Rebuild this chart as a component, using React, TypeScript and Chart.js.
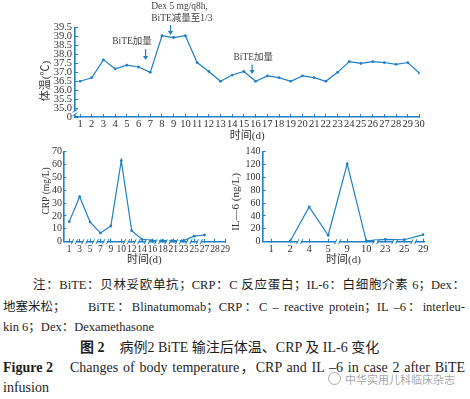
import React, { useEffect, useRef } from "react";
import { Chart, registerables } from "chart.js";

Chart.register(...registerables);

const BLUE = "#1f80c6";
const TEXT = "#333333";
const SERIF = "'Liberation Serif', 'Noto Sans CJK SC', serif";

// ---------- Body temperature ----------
const tempDays = [1, 2, 3, 4, 5, 6, 7, 8, 9, 10, 11, 12, 13, 14, 15, 16, 17, 18, 19, 20, 21, 22, 23, 24, 25, 26, 27, 28, 29, 30];
const tempValues = [36.5, 36.7, 37.7, 37.2, 37.4, 37.3, 37.0, 39.05, 38.95, 39.05, 37.55, 37.05, 36.5, 36.85, 37.05, 36.5, 36.8, 36.7, 36.5, 36.8, 36.7, 36.5, 37.0, 37.6, 37.5, 37.6, 37.55, 37.45, 37.55, 36.95];
const tempTickValues = [34.5, 35, 35.5, 36, 36.5, 37, 37.5, 38, 38.5, 39, 39.5];
const tempTickLabels = ["0", "35.0", "35.5", "36.0", "36.5", "37.0", "37.5", "38.0", "38.5", "39.0", "39.5"];
const tempNoteDays = [8.73, 6.6, 15.7];
const tempNoteTexts = [["Dex 5 mg/q8h,", "BiTE减量至1/3"], ["BiTE加量"], ["BiTE加量"]];

// ---------- CRP ----------
const crpDayLabels = ["1", "3", "5", "7", "9", "10", "12", "14", "16", "18", "21", "23", "25", "27", "28", "29"];
const crpValues = [15.6, 35, 15.3, 6.7, 12.2, 63, 8.6, 1.8, 1.0, 0.8, 0.8, 0.8, 4.3, 5.2, null, null];
const crpTickValues = [0, 10, 20, 30, 40, 50, 60, 70];
const crpBreakAfter = [0, 1, 2, 3, 5, 6, 7, 8, 9, 10, 11, 12];

// ---------- IL-6 ----------
const il6DayLabels = ["1", "2", "4", "5", "9", "10", "23", "25", "29"];
const il6Values = [null, 0.8, 54, 10, 121, 1.2, 3.5, 3, 11];
const il6TickValues = [0, 20, 40, 60, 80, 100, 120, 140];
const il6BreakAfter = [1, 3, 5, 6, 7];

type Note = { day: number; lines: string[]; dx: number; ty: number[]; a: [number, number] };

type Spec = {
  left: number; top: number; width: number; height: number;
  pad: { left: number; top: number; right: number; bottom: number };
  yWidth: number; xHeight: number;
  xMin: number; xMax: number; xTicks: number[]; xLabels: string[]; xTickSize: number; xLabelPad: number;
  yMin: number; yMax: number; yTicks: number[]; yLabels: string[]; yTickSize: number; yLabelPad: number;
  yTitle: string; yTitleSize: number; yTitleX: number; yTitleY: number;
  xTitleSize: number; xTitlePadBottom: number;
  points: { x: number; y: number | null }[];
  breaksX?: number[]; breakY?: number;
  notes?: Note[];
};

function buildConfig(s: Spec): any {
  const decor = {
    id: "decor",
    afterDraw(chart: any) {
      const { ctx, chartArea: ca, scales } = chart;
      const xs = scales.x;
      const ys = scales.y;
      // y title
      ctx.save();
      ctx.fillStyle = TEXT;
      ctx.font = `${s.yTitleSize}px ${SERIF}`;
      ctx.textAlign = "center";
      ctx.textBaseline = "middle";
      ctx.translate(s.yTitleX, s.yTitleY);
      ctx.rotate(-Math.PI / 2);
      ctx.fillText(s.yTitle, 0, 0);
      ctx.restore();

      ctx.save();
      ctx.strokeStyle = BLUE;
      ctx.lineWidth = 1;
      // x-axis breaks
      (s.breaksX || []).forEach((i) => {
        const px = xs.getPixelForValue(i + 0.5);
        const py = ca.bottom;
        ctx.fillStyle = "#ffffff";
        ctx.fillRect(px - 1.5, py - 1.5, 3, 3);
        ctx.beginPath();
        ctx.moveTo(px - 3.2, py + 2.5);
        ctx.lineTo(px - 0.8, py - 2.5);
        ctx.moveTo(px + 0.8, py + 2.5);
        ctx.lineTo(px + 3.2, py - 2.5);
        ctx.stroke();
      });
      // y-axis break
      if (s.breakY !== undefined) {
        const py = ys.getPixelForValue(s.breakY);
        const px = ca.left;
        ctx.fillStyle = "#ffffff";
        ctx.fillRect(px - 1.5, py - 1.5, 3, 3);
        ctx.beginPath();
        ctx.moveTo(px - 2.5, py - 0.2);
        ctx.lineTo(px + 2.5, py - 3.2);
        ctx.moveTo(px - 2.5, py + 3.2);
        ctx.lineTo(px + 2.5, py + 0.2);
        ctx.stroke();
      }
      // annotations
      (s.notes || []).forEach((n) => {
        const px = xs.getPixelForValue(n.day);
        ctx.fillStyle = "#444444";
        ctx.font = `9.5px ${SERIF}`;
        ctx.textAlign = "left";
        ctx.textBaseline = "middle";
        n.lines.forEach((t, k) => ctx.fillText(t, px + n.dx, n.ty[k]));
        ctx.strokeStyle = BLUE;
        ctx.lineWidth = 1.2;
        ctx.beginPath();
        ctx.moveTo(px, n.a[0]);
        ctx.lineTo(px, n.a[1] - 3);
        ctx.stroke();
        ctx.fillStyle = BLUE;
        ctx.beginPath();
        ctx.moveTo(px - 2.6, n.a[1] - 4);
        ctx.lineTo(px + 2.6, n.a[1] - 4);
        ctx.lineTo(px, n.a[1]);
        ctx.closePath();
        ctx.fill();
      });
      ctx.restore();
    },
  };

  return {
    type: "line",
    data: {
      datasets: [
        {
          data: s.points,
          borderColor: BLUE,
          backgroundColor: BLUE,
          borderWidth: 1.2,
          pointRadius: 1.4,
          pointBorderWidth: 0,
          pointHoverRadius: 0,
          tension: 0,
          fill: false,
        },
      ],
    },
    options: {
      animation: false,
      responsive: false,
      maintainAspectRatio: false,
      events: [],
      layout: { padding: s.pad },
      plugins: { legend: { display: false }, tooltip: { enabled: false } },
      scales: {
        x: {
          type: "linear",
          position: "bottom",
          min: s.xMin,
          max: s.xMax,
          afterFit: (sc: any) => { sc.height = s.xHeight; },
          afterBuildTicks: (sc: any) => { sc.ticks = s.xTicks.map((v) => ({ value: v })); },
          ticks: {
            autoSkip: false,
            maxRotation: 0,
            minRotation: 0,
            padding: s.xLabelPad,
            color: TEXT,
            font: { family: SERIF, size: s.xTickSize },
            callback: (_v: any, i: number) => s.xLabels[i],
          },
          grid: { drawOnChartArea: false, drawTicks: true, tickLength: -3, color: BLUE, lineWidth: 1 },
          border: { color: BLUE, width: 1.6 },
          title: {
            display: true,
            text: "时间(d)",
            color: TEXT,
            font: { family: SERIF, size: s.xTitleSize },
            padding: { top: 0, bottom: s.xTitlePadBottom },
          },
        },
        y: {
          type: "linear",
          min: s.yMin,
          max: s.yMax,
          afterFit: (sc: any) => { sc.width = s.yWidth; },
          afterBuildTicks: (sc: any) => { sc.ticks = s.yTicks.map((v) => ({ value: v })); },
          ticks: {
            autoSkip: false,
            padding: s.yLabelPad,
            color: TEXT,
            font: { family: SERIF, size: s.yTickSize },
            callback: (_v: any, i: number) => s.yLabels[i],
          },
          grid: { drawOnChartArea: false, drawTicks: true, tickLength: -3, color: BLUE, lineWidth: 1 },
          border: { color: BLUE, width: 1.6 },
        },
      },
    },
    plugins: [decor],
  };
}

function ChartPanel({ spec }: { spec: Spec }) {
  const ref = useRef<HTMLCanvasElement>(null);
  useEffect(() => {
    const chart = new Chart(ref.current as HTMLCanvasElement, buildConfig(spec));
    return () => chart.destroy();
  }, []);
  return (
    <canvas
      ref={ref}
      width={spec.width}
      height={spec.height}
      style={{ position: "absolute", left: spec.left, top: spec.top, width: spec.width, height: spec.height }}
    />
  );
}

const tempSpec: Spec = {
  left: 0, top: 0, width: 470, height: 145,
  pad: { left: 0, top: 27.7, right: 50.5, bottom: 0 },
  yWidth: 75, xHeight: 28,
  xMin: 0.57, xMax: 30, xTicks: tempDays, xLabels: tempDays.map(String), xTickSize: 10.5, xLabelPad: 4.2,
  yMin: 34.5, yMax: 39.5, yTicks: tempTickValues, yLabels: tempTickLabels, yTickSize: 10.5, yLabelPad: 6,
  yTitle: "体温(℃)", yTitleSize: 11, yTitleX: 46, yTitleY: 81,
  xTitleSize: 11, xTitlePadBottom: 2,
  points: tempDays.map((d, i) => ({ x: d, y: tempValues[i] })),
  breakY: 34.75,
  notes: [
    { day: tempNoteDays[0], lines: tempNoteTexts[0], dx: -19.3, ty: [6.7, 18.5], a: [25, 35] },
    { day: tempNoteDays[1], lines: tempNoteTexts[1], dx: -33.3, ty: [41.7], a: [49, 60] },
    { day: tempNoteDays[2], lines: tempNoteTexts[2], dx: -18.7, ty: [57], a: [64.5, 74] },
  ],
};

const crpSpec: Spec = {
  left: 0, top: 140, width: 235, height: 127,
  pad: { left: 0, top: 11.7, right: 9, bottom: 0 },
  yWidth: 63.3, xHeight: 25.3,
  xMin: -0.57, xMax: 15, xTicks: crpDayLabels.map((_, i) => i), xLabels: crpDayLabels, xTickSize: 9.5, xLabelPad: 4.9,
  yMin: 0, yMax: 70, yTicks: crpTickValues, yLabels: crpTickValues.map(String), yTickSize: 10, yLabelPad: 4.3,
  yTitle: "CRP (mg/L)", yTitleSize: 9.5, yTitleX: 46.5, yTitleY: 51,
  xTitleSize: 11, xTitlePadBottom: 0.4,
  points: crpValues.map((v, i) => ({ x: i, y: v })),
  breaksX: crpBreakAfter,
};

const il6Spec: Spec = {
  left: 222, top: 140, width: 248, height: 127,
  pad: { left: 0, top: 11.7, right: 45.7, bottom: 0 },
  yWidth: 40.7, xHeight: 25.3,
  xMin: -0.44, xMax: 8.05, xTicks: il6DayLabels.map((_, i) => i), xLabels: il6DayLabels, xTickSize: 10.5, xLabelPad: 4.3,
  yMin: 0, yMax: 140, yTicks: il6TickValues, yLabels: il6TickValues.map(String), yTickSize: 10, yLabelPad: 5.2,
  yTitle: "IL—6 (ng/L)", yTitleSize: 11, yTitleX: 14, yTitleY: 62,
  xTitleSize: 11, xTitlePadBottom: 0.4,
  points: il6Values.map((v, i) => ({ x: i, y: v })),
  breaksX: il6BreakAfter,
};

const lineBase: React.CSSProperties = {
  position: "absolute",
  whiteSpace: "nowrap",
  lineHeight: "20px",
};

export default function App() {
  return (
    <div
      style={{
        position: "absolute",
        left: 0,
        top: 0,
        width: 470,
        height: 399,
        background: "#ffffff",
        overflow: "hidden",
        fontFamily: SERIF,
        color: "#1e1e1e",
      }}
    >
      <ChartPanel spec={tempSpec} />
      <ChartPanel spec={crpSpec} />
      <ChartPanel spec={il6Spec} />

      <div style={{ ...lineBase, left: 33, top: 275, width: 432, fontSize: 12.5, textAlign: "justify", textAlignLast: "justify" }}>
        注：BiTE：贝林妥欧单抗；CRP：C 反应蛋白；IL-6：白细胞介素 6；Dex：
      </div>
      <div style={{ ...lineBase, left: 3, top: 296.7, fontSize: 12.5 }}>地塞米松；</div>
      <div style={{ ...lineBase, left: 88, top: 296.7, width: 377, fontSize: 12.5, textAlign: "justify", textAlignLast: "justify" }}>
        BiTE：Blinatumomab；CRP：C – reactive protein；IL –6：interleu-
      </div>
      <div style={{ ...lineBase, left: 3, top: 316.7, fontSize: 12.5 }}>kin 6；Dex：Dexamethasone</div>
      <div style={{ ...lineBase, left: 80, top: 338.3, fontSize: 14 }}>
        <b>图 2</b>
        <span style={{ marginLeft: 15 }}>病例2 BiTE 输注后体温、CRP 及 IL-6 变化</span>
      </div>
      <div style={{ ...lineBase, left: 3, top: 358, fontSize: 14 }}>
        <b>Figure 2</b>
      </div>
      <div style={{ ...lineBase, left: 70, top: 358, width: 395, fontSize: 14, textAlign: "justify", textAlignLast: "justify" }}>
        Changes of body temperature，CRP and IL –6 in case 2 after BiTE
      </div>
      <div style={{ ...lineBase, left: 3, top: 378, fontSize: 14 }}>infusion</div>

      <div
        style={{
          position: "absolute",
          left: 328,
          top: 372,
          width: 11,
          height: 11,
          borderRadius: "50%",
          border: "1px solid rgba(120,120,120,0.6)",
        }}
      />
      <div
        style={{
          ...lineBase,
          left: 345,
          top: 369,
          fontSize: 11,
          color: "rgba(110,110,110,0.65)",
          fontFamily: "'Noto Sans CJK SC', sans-serif",
        }}
      >
        中华实用儿科临床杂志
      </div>
    </div>
  );
}
